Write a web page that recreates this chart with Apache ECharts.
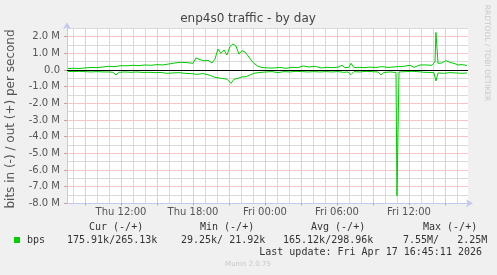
<!DOCTYPE html>
<html>
<head>
<meta charset="utf-8">
<script src="https://cdn.jsdelivr.net/npm/echarts@6/dist/echarts.min.js"></script>
<style>html,body{margin:0;padding:0;background:#f0f0f0;}#c{width:497px;height:275px;}</style>
</head>
<body>
<div id="c"></div>
<script>
// hours since Thu 00:00
const outTimes = [7.5,8.0,8.5,9.0,9.5,10.0,10.5,11.0,11.5,12.0,12.5,13.0,13.5,14.0,14.5,15.0,15.5,16.0,16.5,17.0,17.5,18.0,18.25,18.58,18.92,19.25,19.58,19.83,20.08,20.33,20.58,20.83,21.08,21.33,21.58,21.83,22.08,22.33,22.58,22.83,23.08,23.42,23.75,24.25,24.75,25.25,25.75,26.25,26.75,27.17,27.67,28.17,28.67,29.17,29.67,30.17,30.42,30.67,31.0,31.17,31.42,31.75,32.25,32.75,33.25,33.75,34.25,34.75,35.08,35.58,36.08,36.42,36.92,37.42,37.92,38.17,38.25,38.42,38.75,39.08,39.42,39.75,40.08,40.42,40.83];
// out (+) in Mbit/s
const outVals = [0.08,0.10,0.09,0.12,0.15,0.14,0.18,0.22,0.20,0.26,0.25,0.28,0.26,0.30,0.28,0.32,0.30,0.36,0.42,0.46,0.44,0.40,0.72,0.62,0.55,0.58,0.42,0.65,1.25,1.00,1.20,0.90,1.40,1.56,1.44,0.95,1.16,1.08,0.85,0.60,0.40,0.22,0.15,0.12,0.12,0.15,0.10,0.16,0.14,0.24,0.18,0.22,0.12,0.16,0.14,0.18,0.28,0.14,0.16,0.40,0.14,0.16,0.14,0.17,0.15,0.20,0.15,0.18,0.20,0.22,0.28,0.16,0.30,0.30,0.28,0.50,2.25,0.40,0.42,0.56,0.45,0.40,0.30,0.32,0.27];
const inTimes = [7.5,8.0,8.5,9.0,9.5,10.0,10.5,11.0,11.33,11.58,11.83,12.33,12.83,13.33,13.83,14.33,14.83,15.33,15.83,16.33,16.83,17.33,17.83,18.33,18.83,19.33,19.83,20.33,20.83,21.17,21.42,21.75,22.08,22.42,22.75,23.08,23.58,24.08,24.58,25.08,25.58,26.08,26.58,27.08,27.58,28.08,28.58,29.08,29.58,30.08,30.58,30.92,31.17,31.42,31.92,32.42,32.92,33.42,33.67,33.92,34.42,34.92,35.0,35.08,35.17,35.75,36.25,36.75,37.25,37.75,38.08,38.25,38.42,38.92,39.42,39.92,40.42,40.83];
// in (-) in Mbit/s
const inVals = [-0.08,-0.10,-0.08,-0.10,-0.12,-0.10,-0.12,-0.12,-0.14,-0.30,-0.14,-0.12,-0.14,-0.12,-0.15,-0.14,-0.16,-0.15,-0.20,-0.18,-0.16,-0.20,-0.22,-0.26,-0.22,-0.30,-0.44,-0.50,-0.55,-0.80,-0.56,-0.50,-0.42,-0.40,-0.30,-0.20,-0.15,-0.12,-0.10,-0.16,-0.10,-0.12,-0.08,-0.10,-0.12,-0.10,-0.12,-0.10,-0.12,-0.10,-0.14,-0.12,-0.28,-0.10,-0.12,-0.08,-0.10,-0.12,-0.30,-0.15,-0.12,-0.15,-7.55,-7.55,-0.12,-0.10,-0.08,-0.10,-0.14,-0.15,-0.16,-0.66,-0.18,-0.20,-0.16,-0.18,-0.20,-0.18];

const xLabelHours = [12,18,24,30,36];
const xMajorHours = [9,12,15,18,21,24,27,30,33,36,39];
const xMinorHours = [];
for (let h = 8; h <= 40; h++) if (h % 3 !== 0) xMinorHours.push(h);
const yLabelValues = [-8,-7,-6,-5,-4,-3,-2,-1,0,1,2];
const yMinorValues = [-7.5,-6.5,-5.5,-4.5,-3.5,-2.5,-1.5,-0.5,0.5,1.5,2.5];

const legendHeaders = ['Cur (-/+)','Min (-/+)','Avg (-/+)','Max (-/+)'];
const legendValues = ['175.91k/265.13k','29.25k/ 21.92k','165.12k/298.96k','7.55M/   2.25M'];

const X0 = 7.5, X1 = 40.92, Y0 = -8, Y1 = 2.5;
const RED = '#f4c6c6';
const GREY = '#dadada';
const AXIS = '#c4c8f0';
const mono = 'DejaVu Sans Mono';
const sans = 'DejaVu Sans';

function fmtHour(h){
  const d = h < 24 ? 'Thu' : 'Fri';
  const hh = h % 24;
  return d + ' ' + (hh < 10 ? '0' : '') + hh + ':00';
}

const chart = echarts.init(document.getElementById('c'), null, {renderer:'canvas'});

const hdrX = [89, 200, 311, 423];
const valX = [67, 181, 283, 403];
const graphics = [];
legendHeaders.forEach((t,i)=>graphics.push({type:'text',x:hdrX[i],y:227,style:{text:t,font:'10px '+mono,fill:'#333',verticalAlign:'middle'}}));
legendValues.forEach((t,i)=>graphics.push({type:'text',x:valX[i],y:240,style:{text:t,font:'10px '+mono,fill:'#333',verticalAlign:'middle'}}));
graphics.push({type:'rect',shape:{x:14,y:237,width:6,height:6},style:{fill:'#00cc00'}});
graphics.push({type:'text',x:27,y:240,style:{text:'bps',font:'10px '+mono,fill:'#333',verticalAlign:'middle'}});
graphics.push({type:'text',x:482,y:252,style:{text:'Last update: Fri Apr 17 16:45:11 2026',font:'10px '+mono,fill:'#333',align:'right',verticalAlign:'middle'}});
graphics.push({type:'text',x:248,y:264,style:{text:'Munin 2.0.75',font:'7px '+sans,fill:'#c8c8c8',align:'center',verticalAlign:'middle'}});
graphics.push({type:'text',x:248,y:19,style:{text:'enp4s0 traffic - by day',font:'12px '+sans,fill:'#444',align:'center',verticalAlign:'middle'}});
graphics.push({type:'text',x:11,y:119,rotation:Math.PI/2,style:{text:'bits in (-) / out (+) per second',font:'12px '+sans,fill:'#555',align:'center',verticalAlign:'middle'}});
graphics.push({type:'text',x:487,y:53,rotation:-Math.PI/2,style:{text:'RRDTOOL / TOBI OETIKER',font:'7.5px '+sans,fill:'#c8c8c8',align:'center',verticalAlign:'middle'}});

const minorLines = [].concat(yMinorValues.map(v=>({yAxis:v})), xMinorHours.map(h=>({xAxis:h})));
const majorLines = [].concat(yLabelValues.filter(v=>v!==Y0).map(v=>({yAxis:v})), xMajorHours.map(h=>({xAxis:h})));

function carrier(z, lines, color){
  return {type:'line',z:z,data:[[X0,0]],symbol:'none',lineStyle:{opacity:0},silent:true,
    markLine:{z:z,silent:true,animation:false,symbol:['none','none'],label:{show:false},
      lineStyle:{color:color,width:1,type:'solid'},data:lines}};
}

const option = {
  animation:false,
  backgroundColor:'#f0f0f0',
  grid:{left:67,top:28.3,right:29,bottom:71.7,show:false,containLabel:false},
  xAxis:[
    {type:'value',min:X0,max:X1,position:'bottom',z:5,
     axisLine:{show:true,onZero:false,symbol:['none','arrow'],symbolSize:[6,7],symbolOffset:[0,5],lineStyle:{color:AXIS,width:1}},
     axisTick:{show:true,length:2,customValues:xMajorHours,lineStyle:{color:'#e08a8a'}},
     axisLabel:{show:true,customValues:xLabelHours,margin:4,formatter:fmtHour,color:'#555',fontFamily:sans,fontSize:10},
     splitLine:{show:false}}
  ],
  yAxis:[
    {type:'value',min:Y0,max:Y1,position:'left',z:5,
     axisLine:{show:true,onZero:false,symbol:['none','arrow'],symbolSize:[6,7],symbolOffset:[0,6],lineStyle:{color:AXIS,width:1}},
     axisTick:{show:true,length:3,customValues:yLabelValues,lineStyle:{color:'#c8a0a0'}},
     axisLabel:{show:true,customValues:yLabelValues,margin:7,color:'#555',fontFamily:sans,fontSize:10,
       formatter:v=>v===0?'0.0':v.toFixed(1)+' M'},
     splitLine:{show:false}}
  ],
  series:[
    {type:'line',z:0,data:[[X0,0]],symbol:'none',lineStyle:{opacity:0},silent:true,
     markArea:{z:0,silent:true,animation:false,itemStyle:{color:'#ffffff',opacity:1},label:{show:false},
       data:[[{coord:[X0,Y0]},{coord:[X1,Y1]}]]}},
    carrier(1, minorLines, GREY),
    carrier(2, majorLines, RED),
    {type:'line',z:3,data:inTimes.map((t,i)=>[t,inVals[i]]),showSymbol:false,symbol:'none',
     lineStyle:{color:'#00cc00',width:1},itemStyle:{color:'#00cc00'}},
    {type:'line',z:3,data:outTimes.map((t,i)=>[t,outVals[i]]),showSymbol:false,symbol:'none',
     lineStyle:{color:'#00cc00',width:1},itemStyle:{color:'#00cc00'}},
    carrier(6, [{yAxis:0}], '#000')
  ],
  graphic:graphics
};
chart.setOption(option);
</script>
</body>
</html>
